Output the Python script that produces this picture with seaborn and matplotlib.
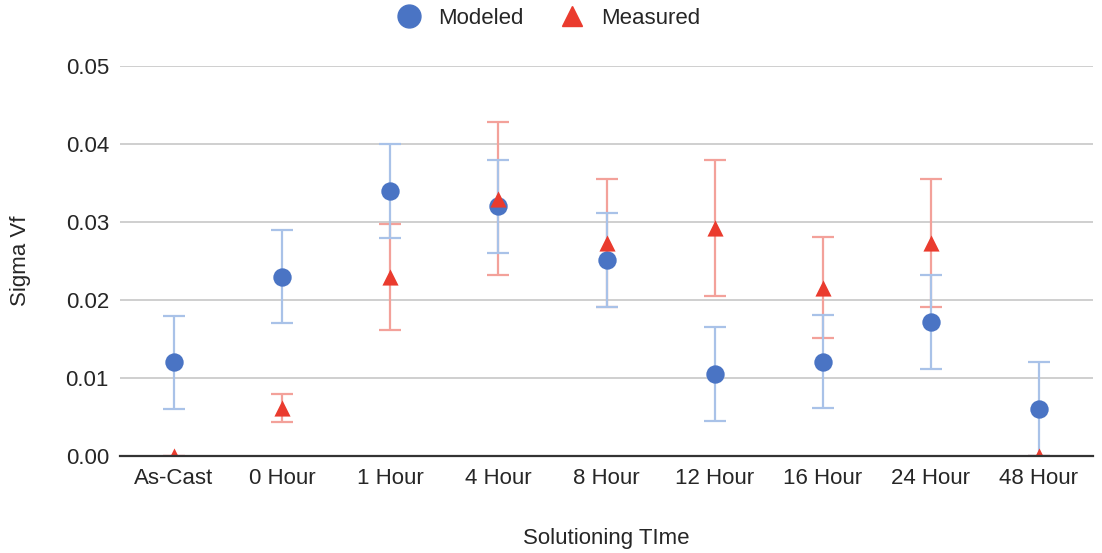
import numpy as np
import pandas as pd
import matplotlib
matplotlib.use("Agg")
import matplotlib.pyplot as plt
import seaborn as sns
from matplotlib.lines import Line2D

categories = ["As-Cast", "0 Hour", "1 Hour", "4 Hour", "8 Hour",
              "12 Hour", "16 Hour", "24 Hour", "48 Hour"]
modeled = [0.0120, 0.0230, 0.0340, 0.0320, 0.0251, 0.0105, 0.0121, 0.0172, 0.0060]
modeled_err = [0.0060, 0.0060, 0.0060, 0.0060, 0.0060, 0.0060, 0.0060, 0.0060, 0.0060]
measured = [0.0000, 0.0061, 0.0230, 0.0330, 0.0273, 0.0292, 0.0216, 0.0273, 0.0000]
measured_err = [0.0000, 0.0018, 0.0068, 0.0098, 0.0082, 0.0087, 0.0065, 0.0082, 0.0000]
yticks = [0.00, 0.01, 0.02, 0.03, 0.04, 0.05]

BLUE = "#4a74c4"
RED = "#ea3b2e"
BLUE_ERR = "#a9c2e8"
RED_ERR = "#f3a19a"
TEXT = "#262626"
FS = 16

sns.set_theme(style="white")
plt.rcParams["font.family"] = ["Liberation Sans", "DejaVu Sans"]

fig = plt.figure(figsize=(11.02, 5.53), dpi=100)
ax = fig.add_axes([120 / 1102, 1 - 456 / 553, (1093 - 120) / 1102, (456 - 66) / 553])

pos = np.arange(len(categories))
df = pd.DataFrame({
    "pos": np.concatenate([pos, pos]),
    "value": modeled + measured,
    "series": ["Modeled"] * len(pos) + ["Measured"] * len(pos),
})

ax.errorbar(pos, measured, yerr=measured_err, fmt="none", ecolor=RED_ERR,
            elinewidth=1.6, capsize=8, capthick=1.6, zorder=2)
ax.errorbar(pos, modeled, yerr=modeled_err, fmt="none", ecolor=BLUE_ERR,
            elinewidth=1.6, capsize=8, capthick=1.6, zorder=2)

sns.scatterplot(data=df[df.series == "Modeled"], x="pos", y="value", ax=ax,
                color=BLUE, marker="o", s=175, linewidth=0, zorder=3, legend=False)
sns.scatterplot(data=df[df.series == "Measured"], x="pos", y="value", ax=ax,
                color=RED, marker="^", s=135, linewidth=0, zorder=4, legend=False)

ax.set_xlim(-0.5, len(categories) - 0.5)
ax.set_ylim(0, 0.05)
ax.set_yticks(yticks)
ax.set_yticklabels([f"{v:.2f}" for v in yticks])
ax.set_xticks(pos)
ax.set_xticklabels(categories)
ax.tick_params(axis="both", length=0, labelsize=FS, colors=TEXT)
ax.tick_params(axis="y", pad=8)
ax.tick_params(axis="x", pad=9)
ax.grid(axis="y", color="#cccccc", linewidth=1.3)
ax.set_axisbelow(True)
for s in ["left", "right", "top"]:
    ax.spines[s].set_visible(False)
ax.spines["bottom"].set_color("#333333")
ax.spines["bottom"].set_linewidth(1.6)
ax.spines["bottom"].set_zorder(5)

ax.set_xlabel("Solutioning TIme", fontsize=FS, color=TEXT, labelpad=28)
ax.set_ylabel("Sigma Vf", fontsize=FS, color=TEXT, labelpad=25)

handles = [
    Line2D([], [], marker="o", color=BLUE, linestyle="none", markersize=16.5),
    Line2D([], [], marker="^", color=RED, linestyle="none", markersize=14),
]
fig.legend(handles, ["Modeled", "Measured"], loc="center", bbox_to_anchor=(0.4975, 1 - 18 / 553),
           ncol=2, frameon=False, fontsize=FS, handletextpad=0.7, columnspacing=1.6,
           handlelength=1.2, labelcolor=TEXT)

fig.savefig("out.png", dpi=100)
